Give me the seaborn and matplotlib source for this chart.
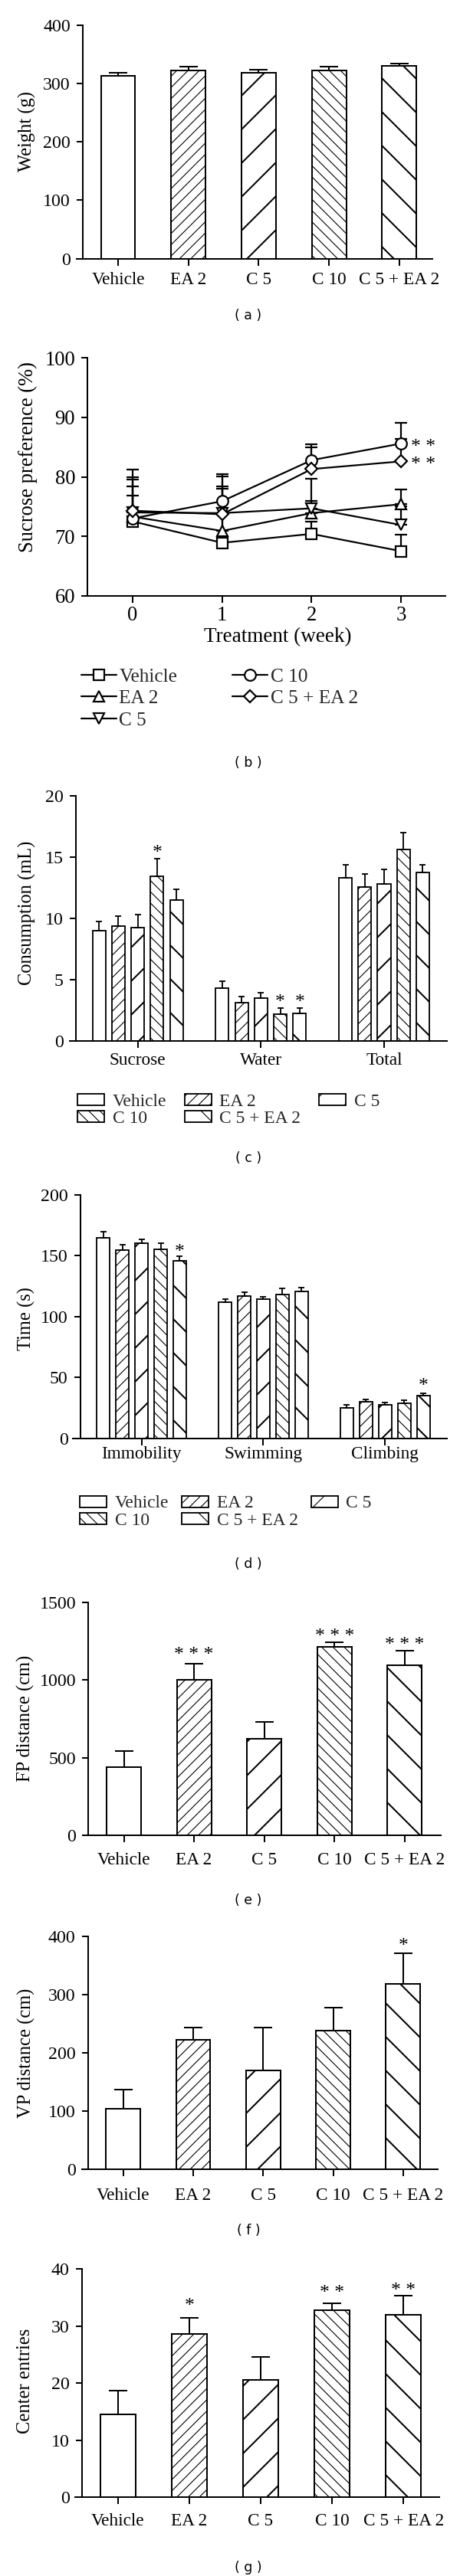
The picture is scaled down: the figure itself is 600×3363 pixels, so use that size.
import numpy as np
import pandas as pd
import matplotlib
matplotlib.use("Agg")
import matplotlib.pyplot as plt
from matplotlib.patches import Patch
from matplotlib.lines import Line2D
from matplotlib.transforms import offset_copy
import seaborn as sns

# ---------------- data ----------------
groups = ["Vehicle", "EA 2", "C 5", "C 10", "C 5 + EA 2"]
hatches = ["", "///", "/", "\\\\\\", "\\"]

weight_mean = [313.3, 322.9, 318.5, 322.5, 330.8]
weight_top = [318.5, 329.5, 324.6, 330.0, 334.7]

weeks = [0, 1, 2, 3]
sp_vehicle = [72.5, 68.9, 70.4, 67.5]
sp_ea2 = [73.3, 70.9, 73.9, 75.4]
sp_c5 = [74.0, 73.9, 74.7, 71.9]
sp_c10 = [73.0, 75.9, 82.8, 85.6]
sp_c5ea2 = [74.3, 73.7, 81.3, 82.6]
sp_vehicle_top = [76.9, 76.0, 72.5, 70.3]
sp_ea2_top = [78.4, 78.0, 79.7, 77.9]
sp_c5_top = [79.9, 78.4, 76.0, 75.0]
sp_c10_top = [79.5, 80.4, 85.5, 89.1]
sp_c5ea2_top = [81.2, 80.1, 85.0, 86.4]

cons_cats = ["Sucrose", "Water", "Total"]
cons_mean = {
    "Vehicle": [9.0, 4.33, 13.3],
    "EA 2": [9.4, 3.17, 12.56],
    "C 5": [9.27, 3.54, 12.8],
    "C 10": [13.46, 2.19, 15.6],
    "C 5 + EA 2": [11.48, 2.29, 13.75],
}
cons_top = {
    "Vehicle": [9.75, 4.9, 14.4],
    "EA 2": [10.2, 3.67, 13.65],
    "C 5": [10.33, 3.94, 14.0],
    "C 10": [14.9, 2.73, 17.0],
    "C 5 + EA 2": [12.4, 2.73, 14.4],
}

fst_cats = ["Immobility", "Swimming", "Climbing"]
fst_mean = {
    "Vehicle": [164.8, 111.8, 25.3],
    "EA 2": [155.0, 117.0, 30.1],
    "C 5": [160.2, 114.3, 27.8],
    "C 10": [155.2, 118.3, 29.1],
    "C 5 + EA 2": [145.7, 121.0, 35.4],
}
fst_top = {
    "Vehicle": [169.5, 114.3, 27.6],
    "EA 2": [159.4, 120.0, 31.8],
    "C 5": [163.8, 116.2, 29.5],
    "C 10": [160.6, 123.0, 31.4],
    "C 5 + EA 2": [149.5, 123.8, 37.2],
}

fp_mean = [437, 1002, 623, 1215, 1096]
fp_top = [542, 1108, 729, 1246, 1192]
vp_mean = [103.3, 222, 170, 238.7, 318.2]
vp_top = [136.3, 244, 244, 278, 371]
ce_mean = [14.56, 28.67, 20.6, 32.8, 31.94]
ce_top = [18.72, 31.44, 24.6, 34.0, 35.4]

# significance marks
stars_c = [(0, 3, 15.6, "*"), (1, 3, 3.45, "*"), (1, 4, 3.45, "*")]
stars_d = [(0, 4, 155.5, "*"), (2, 4, 45.5, "*")]
stars_e = [(1, 1182, "* * *"), (3, 1302, "* * *"), (4, 1248, "* * *")]
stars_f = [(4, 389, "*")]
stars_g = [(1, 34.0, "*"), (3, 36.3, "* *"), (4, 36.8, "* *")]

# ---------------- style ----------------
sns.set_theme(style="ticks")
plt.rcParams["font.family"] = ["Liberation Serif", "DejaVu Serif"]
plt.rcParams["hatch.linewidth"] = 0.6
plt.rcParams["axes.linewidth"] = 1.1

DPI = 132
W, H = 600, 3363
fig = plt.figure(figsize=(W / DPI, H / DPI), dpi=DPI)
fig.patch.set_facecolor("white")


def make_ax(x0, x1, top, bottom):
    return fig.add_axes([x0 / W, 1 - bottom / H, (x1 - x0) / W, (bottom - top) / H])


def style_ax(ax, t0, s, x0, x1, sp, ylim, yticks, xpad, fs=13):
    ax.set_xlim((x0 - t0) / s, (x1 - t0) / s)
    ax.set_ylim(*ylim)
    ax.set_yticks(yticks)
    for side in ["top", "right"]:
        ax.spines[side].set_visible(False)
    for side in ["left", "bottom"]:
        ax.spines[side].set_linewidth(1.1)
        ax.spines[side].set_color("black")
    ax.spines["left"].set_position(("data", (sp - t0) / s))
    ax.tick_params(axis="y", direction="out", length=4.2, width=1.1, pad=4.5,
                   labelsize=fs, colors="black")
    ax.tick_params(axis="x", direction="out", length=4.8, width=1.1, pad=xpad,
                   labelsize=fs - 0.3, colors="black")
    ax.set_facecolor("white")
    ax.grid(False)


def set_ylab(ax, text, x, y, fs=13.4):
    ax.set_ylabel(text, fontsize=fs, color="black")
    ax.yaxis.set_label_coords(x / W, 1 - y / H, transform=fig.transFigure)
    ax.yaxis.label.set_verticalalignment("center")


def star(ax, x, y, txt, fs=14):
    tr = offset_copy(ax.transData, fig=fig, x=0, y=-4.5, units="dots")
    ax.text(x, y, txt, ha="center", va="center", fontsize=fs, color="black",
            transform=tr)


def hatch_bar(bar, h):
    bar.set_hatch(h)
    if h in ("/", "\\") and hasattr(bar, "set_hatch_linewidth"):
        bar.set_hatch_linewidth(1.1)


def panel_label(text, y):
    fig.text(324 / W, 1 - y / H, text, ha="center", va="center",
             fontsize=9.5, family="DejaVu Sans", color="black")


def simple_bars(ax, means, tops, capsize):
    df = pd.DataFrame({"group": groups, "value": means})
    sns.barplot(data=df, x="group", y="value", order=groups, color="white",
                saturation=1, edgecolor="black", linewidth=1.1, width=0.49,
                errorbar=None, ax=ax, zorder=2)
    bars = ax.containers[0]
    for bar, h in zip(bars, hatches):
        hatch_bar(bar, h)
    xs = [b.get_x() + b.get_width() / 2 for b in bars]
    m = np.array(means, float)
    t = np.array(tops, float)
    ax.errorbar(xs, m, yerr=[np.zeros_like(m), t - m], fmt="none", ecolor="black",
                elinewidth=1.1, capsize=capsize, capthick=1.1, zorder=3)
    ax.set_xlabel("")
    return xs


def grouped_bars(ax, cats, mean_d, top_d):
    rows = []
    for g in groups:
        for c, v in zip(cats, mean_d[g]):
            rows.append({"cat": c, "group": g, "value": v})
    df = pd.DataFrame(rows)
    sns.barplot(data=df, x="cat", y="value", hue="group", order=cats,
                hue_order=groups, palette=["white"] * 5, saturation=1,
                edgecolor="black", linewidth=1.0, width=0.785, gap=0.325,
                errorbar=None, legend=False, ax=ax, zorder=2)
    bar_conts = list(ax.containers)[:5]
    pos = {}
    for gi, (g, cont) in enumerate(zip(groups, bar_conts)):
        xs = []
        for bar in cont:
            hatch_bar(bar, hatches[gi])
            xs.append(bar.get_x() + bar.get_width() / 2)
        pos[gi] = xs
        m = np.array(mean_d[g], float)
        t = np.array(top_d[g], float)
        ax.errorbar(xs, m, yerr=[np.zeros_like(m), t - m], fmt="none",
                    ecolor="black", elinewidth=1.0, capsize=2.4, capthick=1.0,
                    zorder=3)
    ax.set_xlabel("")
    return pos


def patch_legend(ax, x, y, colsp):
    handles = [Patch(facecolor="white", edgecolor="black", linewidth=1.0,
                     hatch=hatches[i]) for i in range(5)]
    order = [0, 3, 1, 4, 2]
    return ax.legend([handles[i] for i in order], [groups[i] for i in order], ncol=3,
                     loc="upper left", bbox_to_anchor=(x / W, 1 - y / H),
                     bbox_transform=fig.transFigure, frameon=False, fontsize=12.8,
                     handlelength=1.5, handleheight=0.6, handletextpad=0.45,
                     columnspacing=colsp, labelspacing=0.05, borderpad=0,
                     borderaxespad=0)


# ---------------- (a) weight ----------------
ax_a = make_ax(100, 564, 33.3, 337.5)
simple_bars(ax_a, weight_mean, weight_top, capsize=6.8)
style_ax(ax_a, 154, 91.7, 100, 564, 107.7, (0, 400), [0, 100, 200, 300, 400], xpad=5.0)
set_ylab(ax_a, "Weight (g)", 35, 172)
panel_label("( a )", 412)

# ---------------- (b) sucrose preference ----------------
ax_b = make_ax(114, 581, 467.3, 777.7)
series_b = [
    ("Vehicle", sp_vehicle, sp_vehicle_top, "s", 7.8),
    ("EA 2", sp_ea2, sp_ea2_top, "^", 8.0),
    ("C 5", sp_c5, sp_c5_top, "v", 8.0),
    ("C 10", sp_c10, sp_c10_top, "o", 8.0),
    ("C 5 + EA 2", sp_c5ea2, sp_c5ea2_top, "D", 5.8),
]
handles_b = []
for name, vals, tops, mk, ms in series_b:
    v = np.array(vals, float)
    t = np.array(tops, float)
    ax_b.errorbar(weeks, v, yerr=[np.zeros_like(v), t - v], fmt="none",
                  ecolor="black", elinewidth=1.2, capsize=4.6, capthick=1.2,
                  zorder=2)
    sns.lineplot(x=weeks, y=vals, marker=mk, markersize=ms, color="black",
                 markerfacecolor="white", markeredgecolor="black",
                 markeredgewidth=1.2, linewidth=1.2, ax=ax_b, zorder=3,
                 legend=False)
    handles_b.append(Line2D([0], [0], color="black", lw=1.2, marker=mk,
                            markersize=ms, markerfacecolor="white",
                            markeredgecolor="black", markeredgewidth=1.2))
style_ax(ax_b, 173, 116.7, 114, 581, 114, (60, 100), [60, 70, 80, 90, 100],
         xpad=2.6, fs=14.5)
ax_b.set_xticks(weeks)
ax_b.set_xticklabels([str(w) for w in weeks], fontsize=14.5)
ax_b.set_xlabel("Treatment (week)", fontsize=14.8, color="black")
ax_b.xaxis.set_label_coords(362 / W, 1 - 819 / H, transform=fig.transFigure)
set_ylab(ax_b, "Sucrose preference (%)", 36.5, 597, fs=14.5)
for yv in [sp_c10[-1], sp_c5ea2[-1]]:
    star(ax_b, 3.245, yv, "* *", fs=14)
ax_b.legend(handles_b, [s[0] for s in series_b], ncol=2, loc="upper left",
            bbox_to_anchor=(106 / W, 1 - 872 / H),
            bbox_transform=fig.transFigure, frameon=False, fontsize=13.8,
            handlelength=1.8, handletextpad=0.15, columnspacing=2.85,
            labelspacing=0.23, borderpad=0, borderaxespad=0, numpoints=1)
panel_label("( b )", 996)

# ---------------- (c) consumption ----------------
ax_c = make_ax(91, 583, 1039, 1359.3)
pos_c = grouped_bars(ax_c, cons_cats, cons_mean, cons_top)
style_ax(ax_c, 179.6, 160.7, 91, 583, 98.8, (0, 20), [0, 5, 10, 15, 20], xpad=3.0)
set_ylab(ax_c, "Consumption (mL)", 35, 1192)
for ci, gi, yv, txt in stars_c:
    star(ax_c, pos_c[gi][ci], yv, txt)
patch_legend(ax_c, 101, 1427.5, 1.0)
panel_label("( c )", 1512)

# ---------------- (d) forced swim ----------------
ax_d = make_ax(95, 583, 1560, 1877.8)
pos_d = grouped_bars(ax_d, fst_cats, fst_mean, fst_top)
style_ax(ax_d, 184.6, 158.85, 95, 583, 104.6, (0, 200), [0, 50, 100, 150, 200], xpad=1.0)
set_ylab(ax_d, "Time (s)", 34, 1722)
for ci, gi, yv, txt in stars_d:
    star(ax_d, pos_d[gi][ci], yv, txt)
patch_legend(ax_d, 104, 1952.5, 0.72)
panel_label("( d )", 2042)

# ---------------- (e) FP distance ----------------
ax_e = make_ax(107.7, 575, 2092.3, 2395.7)
xs_e = simple_bars(ax_e, fp_mean, fp_top, capsize=6.8)
style_ax(ax_e, 161.5, 91.6, 107.7, 575, 115.4, (0, 1500), [0, 500, 1000, 1500], xpad=7.6)
set_ylab(ax_e, "FP distance (cm)", 33, 2243)
for ci, yv, txt in stars_e:
    star(ax_e, xs_e[ci], yv, txt)
panel_label("( e )", 2481)

# ---------------- (f) VP distance ----------------
ax_f = make_ax(107, 571, 2528.3, 2831.7)
xs_f = simple_bars(ax_f, vp_mean, vp_top, capsize=6.8)
style_ax(ax_f, 160.8, 91.25, 107, 571, 114.6, (0, 400), [0, 100, 200, 300, 400], xpad=8.2)
set_ylab(ax_f, "VP distance (cm)", 34, 2680)
for ci, yv, txt in stars_f:
    star(ax_f, xs_f[ci], yv, txt)
panel_label("( f )", 2912)

# ---------------- (g) center entries ----------------
ax_g = make_ax(98, 573, 2962.3, 3260)
xs_g = simple_bars(ax_g, ce_mean, ce_top, capsize=6.8)
style_ax(ax_g, 153.8, 93.1, 98, 573, 106.5, (0, 40), [0, 10, 20, 30, 40], xpad=6.9)
set_ylab(ax_g, "Center entries", 33, 3108)
for ci, yv, txt in stars_g:
    star(ax_g, xs_g[ci], yv, txt)
panel_label("( g )", 3352)

fig.savefig("out.png", dpi=DPI, facecolor="white")
